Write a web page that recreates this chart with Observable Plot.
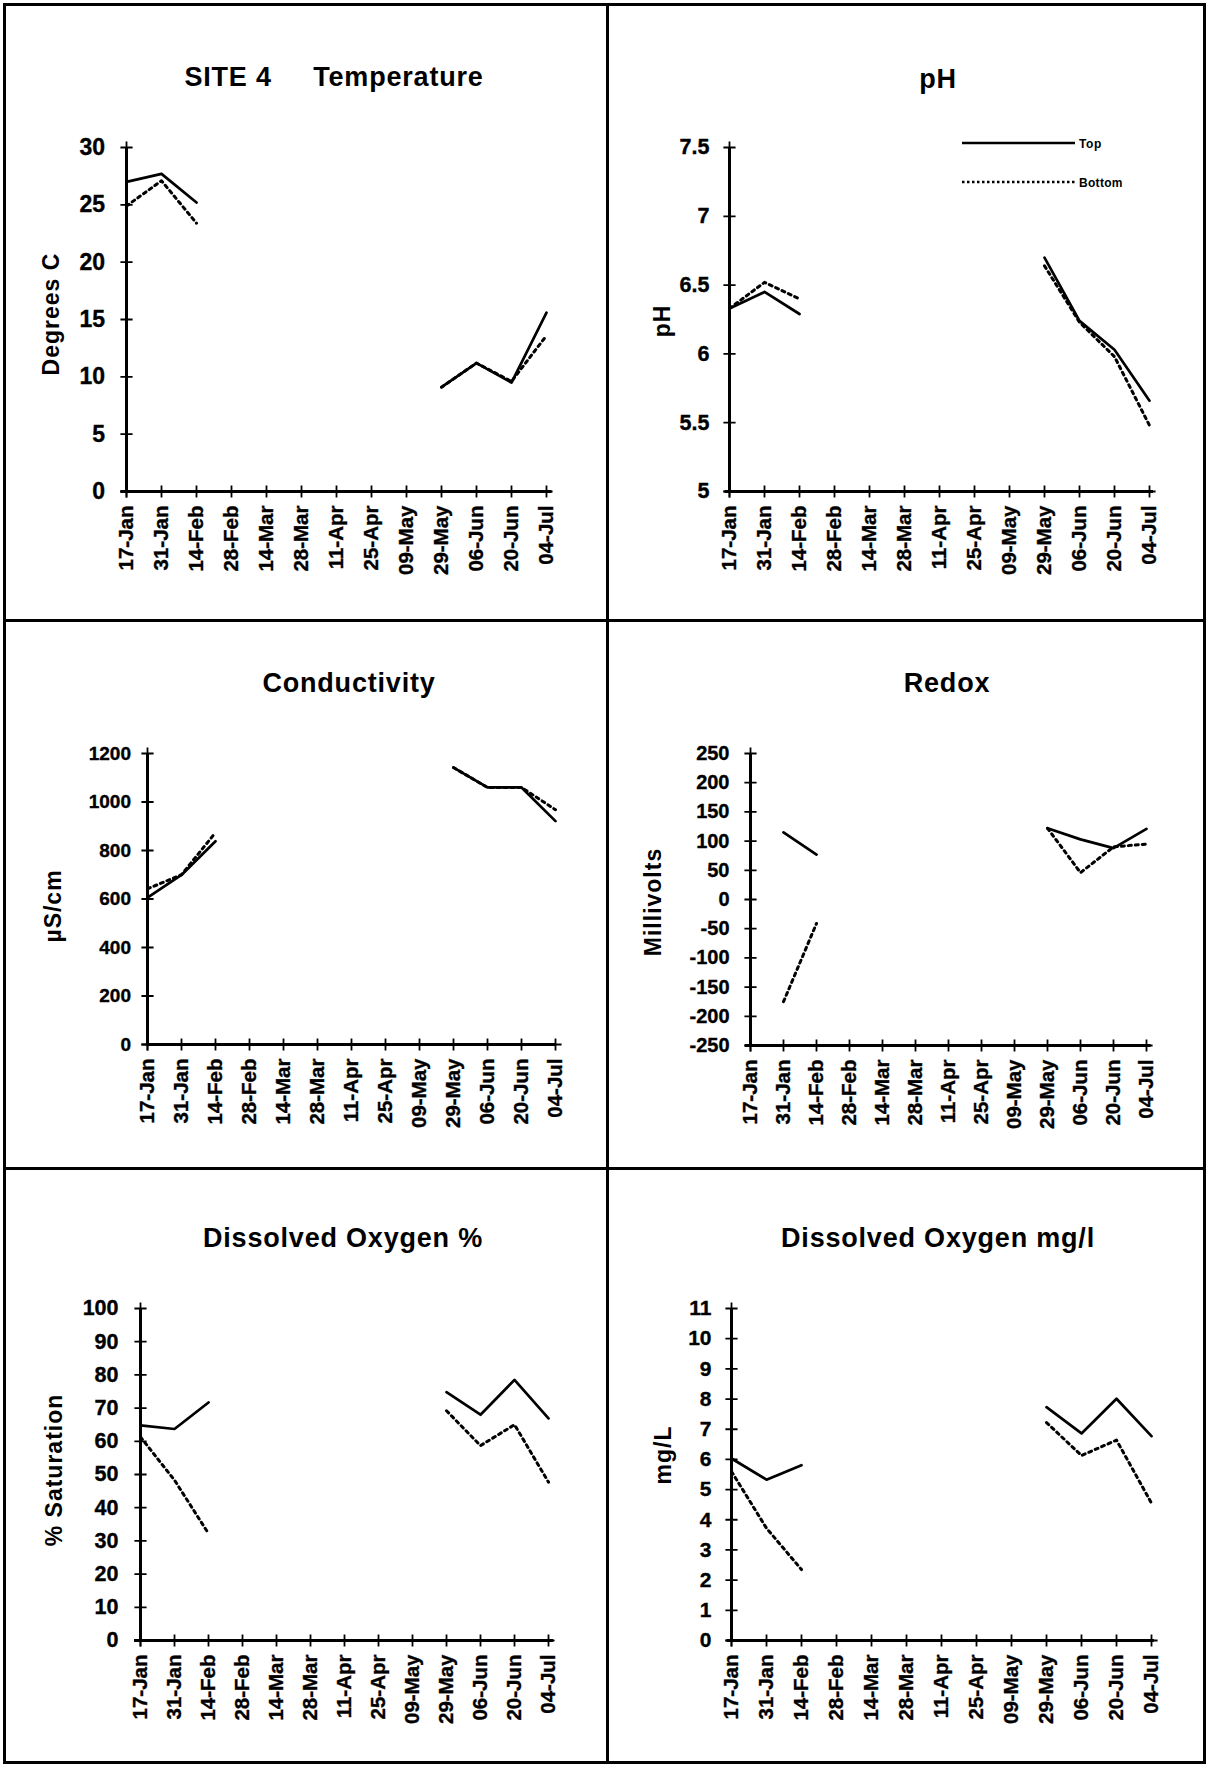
<!DOCTYPE html>
<html>
<head>
<meta charset="utf-8">
<script src="https://cdn.jsdelivr.net/npm/d3@7"></script>
<script src="https://cdn.jsdelivr.net/npm/@observablehq/plot@0.6"></script>
<style>
  html, body { margin: 0; padding: 0; background: #fff; }
  #page { position: relative; width: 1208px; height: 1765px; overflow: hidden; background: #fff;
          font-family: "Liberation Sans", Arial, Helvetica, sans-serif; font-weight: bold; color: #000; }
  .vline { position: absolute; background: #000; width: 3px; }
  .hline { position: absolute; background: #000; height: 3px; }
  .title { position: absolute; transform: translate(-50%, -50%); font-size: 27px; letter-spacing: 0.8px; white-space: pre; line-height: 1; }
  .ylab { position: absolute; transform: translate(-50%, -50%) rotate(-90deg); font-size: 23px; letter-spacing: 1px; white-space: pre; line-height: 1; }
  .plot { position: absolute; }
  .plot text { stroke: #000; stroke-width: 0.35px; }
  .legend { position: absolute; }
</style>
</head>
<body>
<div id="page"></div>
<script>
// ---------- data ----------
const dates = ["17-Jan","31-Jan","14-Feb","28-Feb","14-Mar","28-Mar","11-Apr","25-Apr","09-May","29-May","06-Jun","20-Jun","04-Jul"];

const tempTop    = [27.0, 27.7, 25.2, null, null, null, null, null, null,  9.1, 11.2,  9.5, 15.6];
const tempBottom = [24.9, 27.1, 23.4, null, null, null, null, null, null,  9.1, 11.2,  9.6, 13.6];
const tempTicks  = [0, 5, 10, 15, 20, 25, 30];

const phTop      = [6.33, 6.45, 6.29, null, null, null, null, null, null, 6.70, 6.24, 6.03, 5.66];
const phBottom   = [6.33, 6.52, 6.40, null, null, null, null, null, null, 6.64, 6.23, 5.98, 5.48];
const phTicks    = [5, 5.5, 6, 6.5, 7, 7.5];

const condTop    = [606, 699, 838, null, null, null, null, null, null, 1142, 1060, 1060, 921];
const condBottom = [642, 700, 874, null, null, null, null, null, null, 1142, 1060, 1060, 968];
const condTicks  = [0, 200, 400, 600, 800, 1000, 1200];

const redoxTop    = [null,  115,  77, null, null, null, null, null, null, 122, 103, 88, 121];
const redoxBottom = [null, -175, -41, null, null, null, null, null, null, 122,  46, 90,  95];
const redoxTicks  = [-250, -200, -150, -100, -50, 0, 50, 100, 150, 200, 250];

const doPctTop    = [64.8, 63.7, 71.7, null, null, null, null, null, null, 74.8, 68.0, 78.5, 66.9];
const doPctBottom = [61.3, 48.3, 32.2, null, null, null, null, null, null, 69.2, 58.7, 65.0, 47.7];
const doPctTicks  = [0, 10, 20, 30, 40, 50, 60, 70, 80, 90, 100];

const doMgTop    = [6.03, 5.33, 5.81, null, null, null, null, null, null, 7.73, 6.86, 8.01, 6.77];
const doMgBottom = [5.60, 3.72, 2.35, null, null, null, null, null, null, 7.22, 6.13, 6.64, 4.55];
const doMgTicks  = [0, 1, 2, 3, 4, 5, 6, 7, 8, 9, 10, 11];

const seriesNames = ["Top", "Bottom"];

// ---------- layout ----------
const panels = [
  { title: "SITE 4     Temperature", ylabel: "Degrees C", top: tempTop, bottom: tempBottom, ticks: tempTicks, domain: [0, 30],
    box: {x: 4, y: 4, w: 603, h: 616}, ax: {x0: 120.5, x1: 551.5, yTop: 147, yBot: 491}, tpos: [334, 77], lpos: [51, 314],
    yfs: 23, yls: 1.5 },
  { title: "pH", ylabel: "pH", top: phTop, bottom: phBottom, ticks: phTicks, domain: [5, 7.5],
    box: {x: 607, y: 4, w: 598, h: 616}, ax: {x0: 725, x1: 1153, yTop: 147, yBot: 491}, tpos: [938, 79], lpos: [662, 321],
    yfs: 21.5, yls: 1 },
  { title: "Conductivity", ylabel: "µS/cm", top: condTop, bottom: condBottom, ticks: condTicks, domain: [0, 1200],
    box: {x: 4, y: 620, w: 603, h: 548}, ax: {x0: 146.5, x1: 555, yTop: 753, yBot: 1044}, tpos: [349, 683], lpos: [53, 906],
    yfs: 19, yls: 0.4 },
  { title: "Redox", ylabel: "Millivolts", top: redoxTop, bottom: redoxBottom, ticks: redoxTicks, domain: [-250, 250],
    box: {x: 607, y: 620, w: 598, h: 548}, ax: {x0: 745, x1: 1150.5, yTop: 753, yBot: 1045}, tpos: [947, 683], lpos: [653, 902],
    yfs: 20, yls: 0.8 },
  { title: "Dissolved Oxygen %", ylabel: "% Saturation", top: doPctTop, bottom: doPctBottom, ticks: doPctTicks, domain: [0, 100],
    box: {x: 4, y: 1168, w: 603, h: 594}, ax: {x0: 134, x1: 553, yTop: 1308, yBot: 1640}, tpos: [343, 1238], lpos: [54, 1470],
    yfs: 21.5, yls: 1 },
  { title: "Dissolved Oxygen mg/l", ylabel: "mg/L", top: doMgTop, bottom: doMgBottom, ticks: doMgTicks, domain: [0, 11],
    box: {x: 607, y: 1168, w: 598, h: 594}, ax: {x0: 727, x1: 1154, yTop: 1308, yBot: 1640}, tpos: [938, 1238], lpos: [663, 1455],
    yfs: 21, yls: 1 }
];

const page = document.getElementById("page");
const FONT = '"Liberation Sans", Arial, Helvetica, sans-serif';

for (const p of panels) {
  const rows = dates.map((d, i) => ({date: d, top: p.top[i], bottom: p.bottom[i]}));
  const {box, ax} = p;
  const chart = Plot.plot({
    width: box.w,
    height: box.h,
    marginLeft: ax.x0 - box.x,
    marginRight: box.x + box.w - ax.x1,
    marginTop: ax.yTop - box.y,
    marginBottom: box.y + box.h - ax.yBot,
    x: {type: "point", domain: dates, padding: 0, axis: null},
    y: {domain: p.domain, axis: null},
    style: {background: "transparent", overflow: "visible", fontFamily: FONT, fontWeight: "bold", color: "#000"},
    marks: [
      Plot.axisY(p.ticks, {tickSize: 0, tickPadding: 16, fontSize: p.yfs, tickFormat: d => String(d), label: null,
                           style: {letterSpacing: p.yls + "px"}}),
      Plot.axisX(dates, {tickSize: 0, tickPadding: 14, tickRotate: -90, fontSize: 20.5, label: null}),
      Plot.ruleX([dates[0]], {stroke: "#000", strokeWidth: 3}),
      Plot.ruleY([p.domain[0]], {stroke: "#000", strokeWidth: 3}),
      Plot.dot(p.ticks, {x: () => dates[0], y: d => d, symbol: "plus", r: 4, stroke: "#000", strokeWidth: 1.8}),
      Plot.dot(dates, {x: d => d, y: () => p.domain[0], symbol: "plus", r: 4, stroke: "#000", strokeWidth: 1.8}),
      Plot.line(rows, {x: "date", y: "top", stroke: "#000", strokeWidth: 2.7}),
      Plot.line(rows, {x: "date", y: "bottom", stroke: "#000", strokeWidth: 3, strokeDasharray: "3,4"})
    ]
  });
  chart.classList.add("plot");
  chart.style.left = box.x + "px";
  chart.style.top = box.y + "px";
  chart.style.maxWidth = "none";
  page.appendChild(chart);

  const t = document.createElement("div");
  t.className = "title";
  t.textContent = p.title;
  t.style.left = p.tpos[0] + "px";
  t.style.top = p.tpos[1] + "px";
  page.appendChild(t);

  const yl = document.createElement("div");
  yl.className = "ylab";
  yl.textContent = p.ylabel;
  yl.style.left = p.lpos[0] + "px";
  yl.style.top = p.lpos[1] + "px";
  page.appendChild(yl);
}

// legend (pH panel)
const legend = document.createElement("div");
legend.className = "legend";
legend.style.left = "955px";
legend.style.top = "128px";
legend.innerHTML = `
<svg width="190" height="70" style="overflow:visible">
  <line x1="7" y1="15" x2="120" y2="15" stroke="#000" stroke-width="2.5"/>
  <text x="124" y="19.5" font-family='${FONT}' font-weight="bold" font-size="12" letter-spacing="0.6">${seriesNames[0]}</text>
  <line x1="7" y1="54" x2="120" y2="54" stroke="#000" stroke-width="2.5" stroke-dasharray="2.5,2.5"/>
  <text x="124" y="58.5" font-family='${FONT}' font-weight="bold" font-size="12" letter-spacing="0.3">${seriesNames[1]}</text>
</svg>`;
page.appendChild(legend);

// frame lines
const vx = [3, 606, 1203];
const hy = [3, 619, 1167, 1761];
for (const x of vx) {
  const d = document.createElement("div");
  d.className = "vline";
  d.style.left = x + "px"; d.style.top = "3px"; d.style.height = "1761px";
  page.appendChild(d);
}
for (const y of hy) {
  const d = document.createElement("div");
  d.className = "hline";
  d.style.top = y + "px"; d.style.left = "3px"; d.style.width = "1203px";
  page.appendChild(d);
}
</script>
</body>
</html>
